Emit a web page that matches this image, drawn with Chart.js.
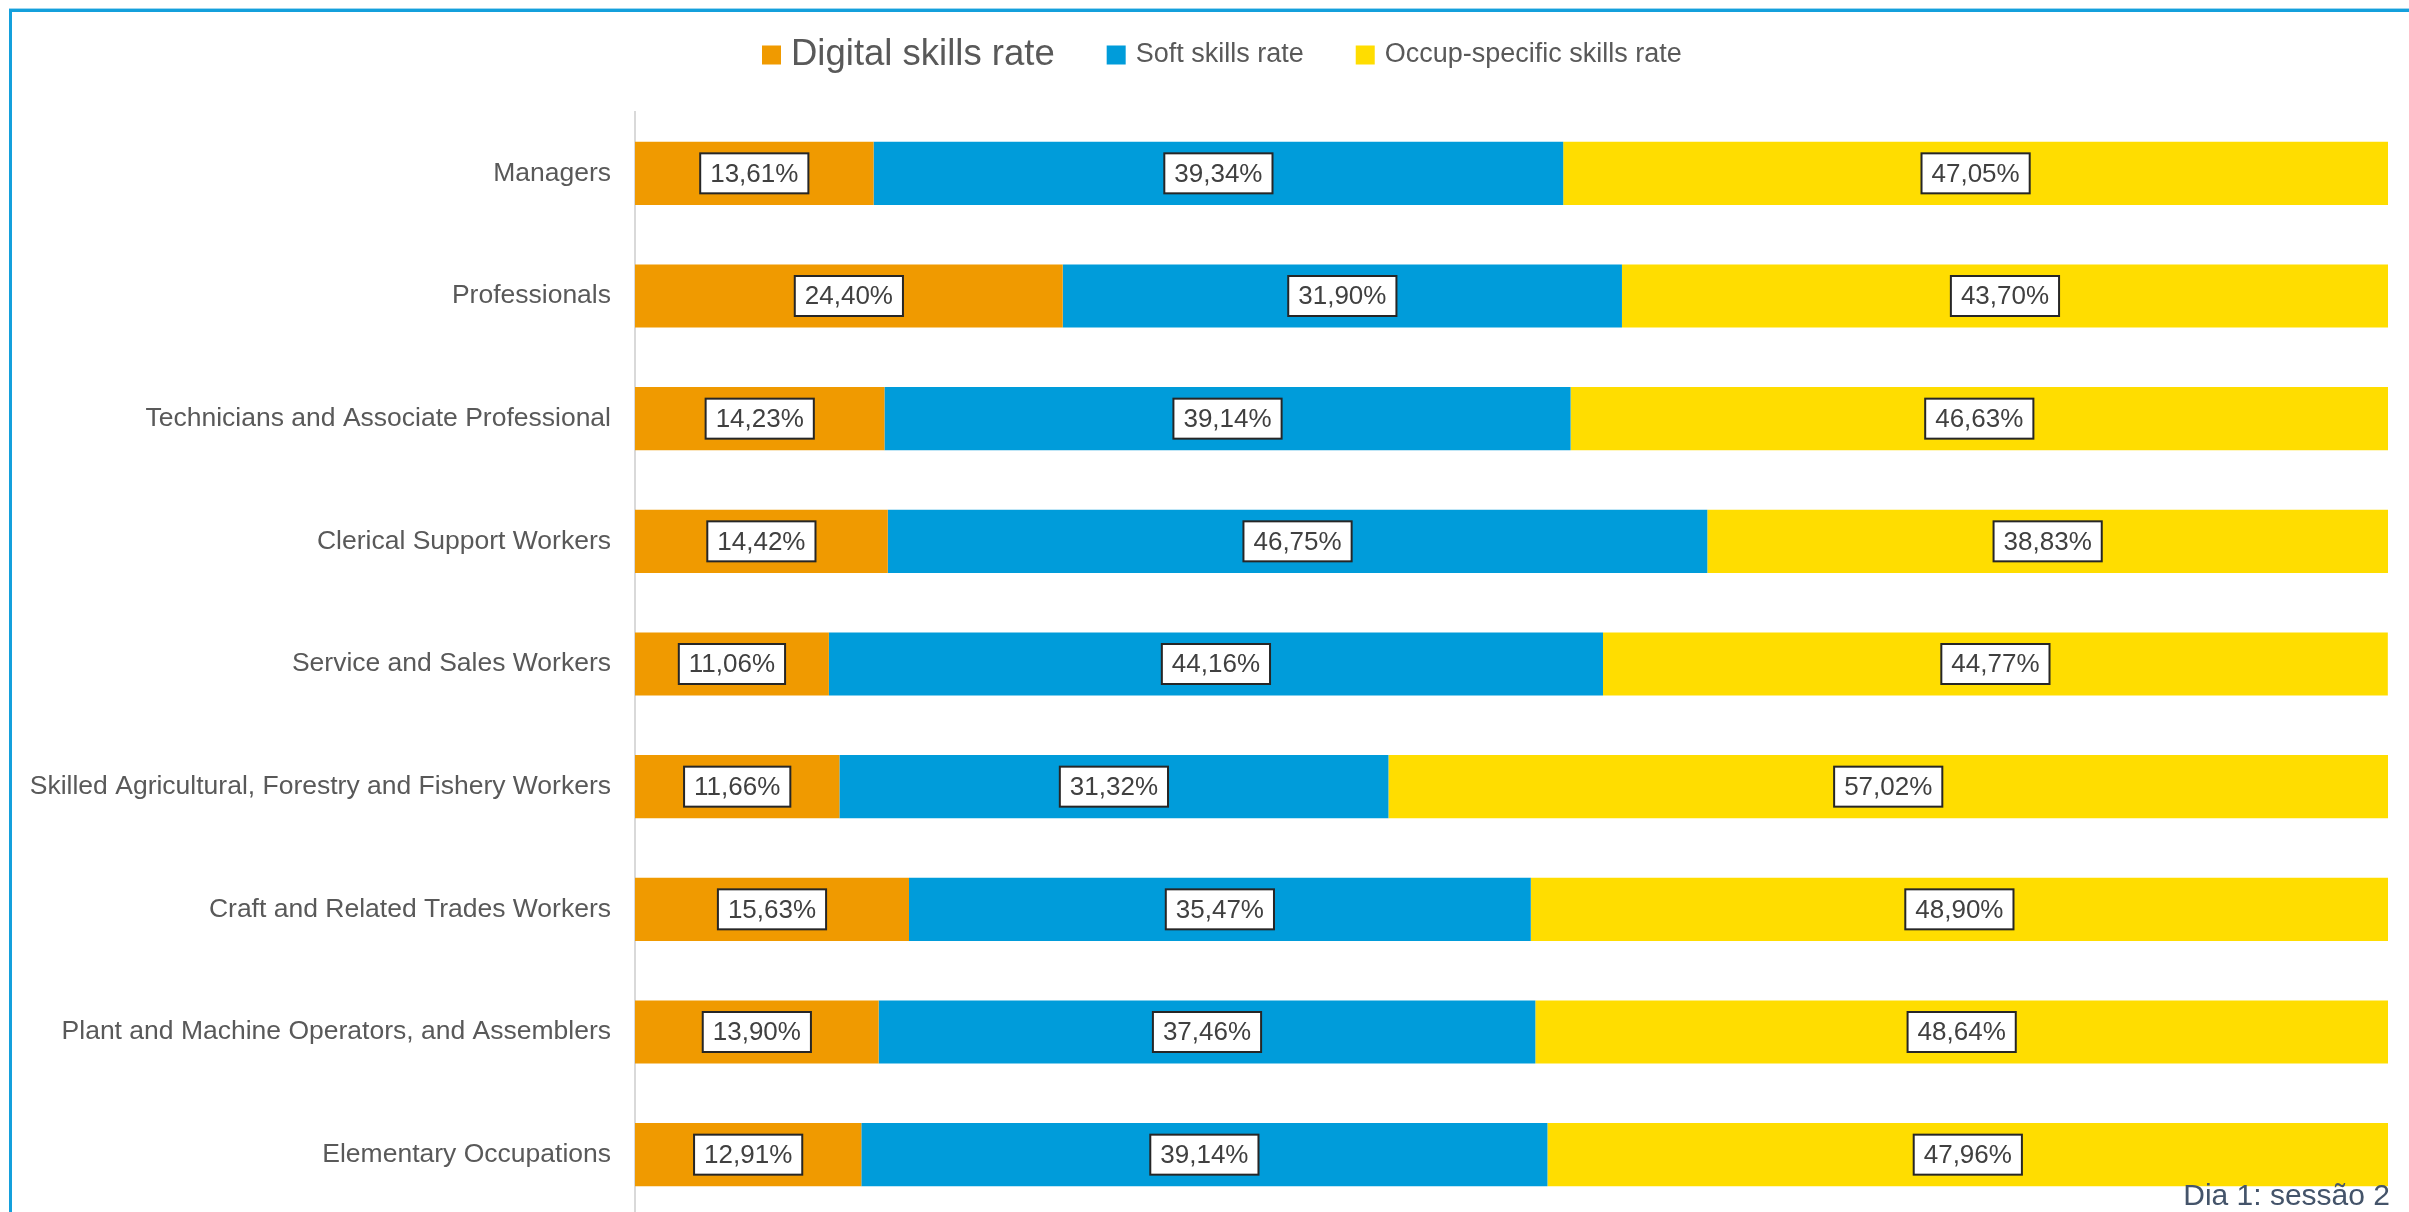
<!DOCTYPE html>
<html>
<head>
<meta charset="utf-8">
<script src="https://cdn.jsdelivr.net/npm/chart.js@4.4.1/dist/chart.umd.min.js"></script>
<style>
  html, body { margin: 0; padding: 0; background: #fff; overflow: hidden; }
  #wrap { position: relative; width: 2409px; height: 1212px; overflow: hidden; }
  #frame {
    position: absolute; left: 9px; top: 9px; width: 2500px; height: 1300px;
    border-left: 3px solid #14a0dc; border-top: 3px solid #14a0dc;
    box-shadow: 0 -1px 0 #9dd6f0;
  }
  #skillsChart { position: absolute; left: 0; top: 0; }
  #footer {
    position: absolute; right: 19px; top: 1180px;
    font: 30px "Liberation Sans", Arial, sans-serif; line-height: 30px;
    color: #44546a;
  }
</style>
</head>
<body>
<div id="wrap">
  <div id="frame"></div>
  <canvas id="skillsChart" width="2409" height="1216"></canvas>
  <div id="footer">Dia 1: sessão 2</div>
</div>

<script>
/* ========================================
   DATA
======================================== */
const occupations = [
  "Managers",
  "Professionals",
  "Technicians and Associate Professional",
  "Clerical Support Workers",
  "Service and Sales Workers",
  "Skilled Agricultural, Forestry and Fishery Workers",
  "Craft and Related Trades Workers",
  "Plant and Machine Operators, and Assemblers",
  "Elementary Occupations"
];

const digitalRate = [13.61, 24.40, 14.23, 14.42, 11.06, 11.66, 15.63, 13.90, 12.91];
const softRate    = [39.34, 31.90, 39.14, 46.75, 44.16, 31.32, 35.47, 37.46, 39.14];
const occupRate   = [47.05, 43.70, 46.63, 38.83, 44.77, 57.02, 48.90, 48.64, 47.96];

const seriesNames = ["Digital skills rate", "Soft skills rate", "Occup-specific skills rate"];
const seriesColors = ["#f09a00", "#009cda", "#ffdd00"];

const FONT = '"Liberation Sans", Arial, sans-serif';

/* ========================================
   FORMAT PERCENT
======================================== */
function formatPercent(value) {
  return value.toFixed(2).replace(".", ",") + "%";
}


/* ========================================
   BOXED VALUE LABELS
======================================== */
const boxLabels = {
  id: "boxLabels",
  afterDatasetsDraw(chart) {
    const ctx = chart.ctx;
    ctx.save();
    ctx.font = "26px " + FONT;
    ctx.textAlign = "center";
    ctx.textBaseline = "middle";

    chart.data.datasets.forEach((ds, i) => {
      const meta = chart.getDatasetMeta(i);
      meta.data.forEach((bar, j) => {
        const text = formatPercent(ds.data[j]);
        const cx = (bar.x + bar.base) / 2;
        const cy = bar.y;
        const w = ctx.measureText(text).width + 20;
        const h = 40;

        ctx.fillStyle = "#ffffff";
        ctx.fillRect(cx - w / 2, cy - h / 2, w, h);
        ctx.lineWidth = 2;
        ctx.strokeStyle = "#262626";
        ctx.strokeRect(cx - w / 2, cy - h / 2, w, h);

        ctx.fillStyle = "#404040";
        ctx.fillText(text, cx, cy + 1);
      });
    });
    ctx.restore();
  }
};


/* ========================================
   LEGEND (first item drawn larger)
======================================== */
const topLegend = {
  id: "topLegend",
  afterDraw(chart) {
    const ctx = chart.ctx;
    const sizes = [36.5, 27, 27];
    const box = 19, gapText = 10, gapItem = 52;
    const cy = 55;
    let x = 762;

    ctx.save();
    chart.data.datasets.forEach((ds, i) => {
      ctx.fillStyle = ds.backgroundColor;
      ctx.fillRect(x, cy - box / 2, box, box);
      x += box + gapText;

      ctx.font = sizes[i] + "px " + FONT;
      ctx.fillStyle = "#595959";
      ctx.textAlign = "left";
      ctx.textBaseline = "middle";
      ctx.fillText(ds.label, x, cy);
      x += ctx.measureText(ds.label).width + gapItem;
    });
    ctx.restore();
  }
};


/* ========================================
   CHART
======================================== */
const ctx = document.getElementById("skillsChart").getContext("2d");

new Chart(ctx, {
  type: "bar",
  data: {
    labels: occupations,
    datasets: [
      { label: seriesNames[0], data: digitalRate, backgroundColor: seriesColors[0] },
      { label: seriesNames[1], data: softRate, backgroundColor: seriesColors[1] },
      { label: seriesNames[2], data: occupRate, backgroundColor: seriesColors[2] }
    ]
  },
  options: {
    indexAxis: "y",
    responsive: false,
    animation: false,
    devicePixelRatio: 1,
    datasets: {
      bar: {
        categoryPercentage: 1,
        barPercentage: 0.515,
        borderWidth: 0
      }
    },
    layout: {
      padding: { left: 0, right: 21, top: 112, bottom: 0 }
    },
    plugins: {
      legend: { display: false },
      tooltip: { enabled: false }
    },
    scales: {
      x: {
        stacked: true,
        display: false,
        min: 0,
        max: 100
      },
      y: {
        stacked: true,
        afterFit: scale => {
          scale.width = 635;
          scale.paddingTop = 0;
          scale.paddingBottom = 0;
        },
        grid: { display: true, drawOnChartArea: false, drawTicks: false },
        border: { display: true, color: "#d9d9d9", width: 2 },
        ticks: {
          color: "#595959",
          padding: 24,
          font: { family: FONT, size: 26.5 }
        }
      }
    }
  },
  plugins: [boxLabels, topLegend]
});
</script>
</body>
</html>
